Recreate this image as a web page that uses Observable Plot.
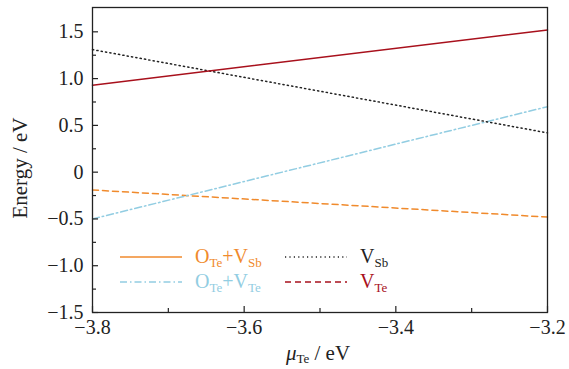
<!DOCTYPE html>
<html><head><meta charset="utf-8">
<script src="https://cdn.jsdelivr.net/npm/d3@7"></script>
<script src="https://cdn.jsdelivr.net/npm/@observablehq/plot@0.6"></script>
<style>
body{margin:0;background:#fff;font-family:"Times New Roman","Liberation Serif",serif;}
</style>
</head><body>
<div id="chart"></div>
<script>
const muTe = [-3.8, -3.2];
const vTe = [0.93, 1.52];
const vSb = [1.31, 0.42];
const oTeVTe = [-0.50, 0.70];
const oTeVSb = [-0.19, -0.48];
const xTicks = [-3.8, -3.6, -3.4, -3.2];
const xMinor = [-3.7, -3.5, -3.3];
const yTicks = [-1.5, -1.0, -0.5, 0, 0.5, 1.0, 1.5];
const yMinor = [-1.25, -0.75, -0.25, 0.25, 0.75, 1.25];

const FONT = "Times New Roman, Liberation Serif, serif";
const series = [
  {name: "OTe+VSb", vals: oTeVSb, color: "#f08a2c", dash: "6,4", legendDash: null},
  {name: "OTe+VTe", vals: oTeVTe, color: "#92cde2", dash: "7,3,1.5,3", legendDash: "7,3,1.5,3"},
  {name: "VSb", vals: vSb, color: "#222", dash: "1.2,3.2", legendDash: "1.2,3.2"},
  {name: "VTe", vals: vTe, color: "#a8101c", dash: null, legendDash: "6,4"}
];
const rows = series.flatMap(s => muTe.map((x, i) => ({x, y: s.vals[i], name: s.name})));
const fmt = d => d === 0 ? "0" : (d < 0 ? "\u2212" : "") + Math.abs(d).toFixed(1);

const W = 569, H = 369, ML = 92, MR = 22, MT = 7, MB = 57;
const PW = W - ML - MR, PH = H - MT - MB;

const marks = [];
for (const s of series) {
  marks.push(Plot.line(rows.filter(r => r.name === s.name), {x: "x", y: "y", stroke: s.color, strokeWidth: 1.5, strokeDasharray: s.dash}));
}
const plot = Plot.plot({
  width: W, height: H,
  marginLeft: ML, marginRight: MR, marginTop: MT, marginBottom: MB,
  x: {domain: [-3.8, -3.2], axis: null},
  y: {domain: [-1.5, 1.76], axis: null},
  marks: [
    ...marks,
    Plot.tickX(xTicks, {x: d => d, stroke: "#222", strokeWidth: 1.2, insetTop: PH - 6}),
    Plot.tickX(xMinor, {x: d => d, stroke: "#222", strokeWidth: 1.2, insetTop: PH - 4}),
    Plot.tickY(yTicks, {y: d => d, stroke: "#222", strokeWidth: 1.2, insetRight: PW - 6}),
    Plot.tickY(yMinor, {y: d => d, stroke: "#222", strokeWidth: 1.2, insetRight: PW - 4}),
    Plot.text(xTicks, {x: d => d, frameAnchor: "bottom", dy: 21, text: fmt, fontSize: 20, fontFamily: FONT, fill: "#222"}),
    Plot.text(yTicks, {y: d => d, frameAnchor: "left", dx: -9, textAnchor: "end", text: fmt, fontSize: 20, fontFamily: FONT, fill: "#222"}),
    Plot.frame({stroke: "#222", strokeWidth: 1.3})
  ]
});
plot.style.fontFamily = FONT;
document.getElementById("chart").appendChild(plot);

const svg = d3.select(plot);
const g = svg.append("g").attr("text-anchor", "start").style("font-family", FONT);
g.append("text").attr("transform", "translate(27,168) rotate(-90)").attr("text-anchor", "middle")
  .attr("font-size", 21).attr("fill", "#222").style("font-family", FONT).text("Energy / eV");
const xl = g.append("text").attr("x", 318).attr("y", 360).attr("text-anchor", "middle").attr("font-size", 21).attr("fill", "#222").style("font-family", FONT);
xl.append("tspan").attr("font-style", "italic").text("\u03bc");
xl.append("tspan").attr("font-size", 13).attr("dy", 3).text("Te");
xl.append("tspan").attr("dy", -3).text(" / eV");

const leg = [
  {s: series[0], x: 120, y: 257, parts: [["O", 0], ["Te", 1], ["+V", 0], ["Sb", 1]]},
  {s: series[1], x: 120, y: 282, parts: [["O", 0], ["Te", 1], ["+V", 0], ["Te", 1]]},
  {s: series[2], x: 285, y: 257, parts: [["V", 0], ["Sb", 1]]},
  {s: series[3], x: 285, y: 282, parts: [["V", 0], ["Te", 1]]}
];
for (const l of leg) {
  g.append("line").attr("x1", l.x).attr("x2", l.x + 62).attr("y1", l.y).attr("y2", l.y)
    .attr("stroke", l.s.color).attr("stroke-width", 1.5).attr("stroke-dasharray", l.s.legendDash);
  const t = g.append("text").attr("x", l.x + 75).attr("y", l.y + 6).attr("font-size", 20).attr("fill", l.s.color).style("font-family", FONT);
  let sub = false;
  for (const [txt, isSub] of l.parts) {
    const sp = t.append("tspan").text(txt);
    if (isSub && !sub) { sp.attr("font-size", 13).attr("dy", 4); sub = true; }
    else if (!isSub && sub) { sp.attr("dy", -4); sub = false; }
    else if (isSub) sp.attr("font-size", 13);
  }
}
</script></body></html>
